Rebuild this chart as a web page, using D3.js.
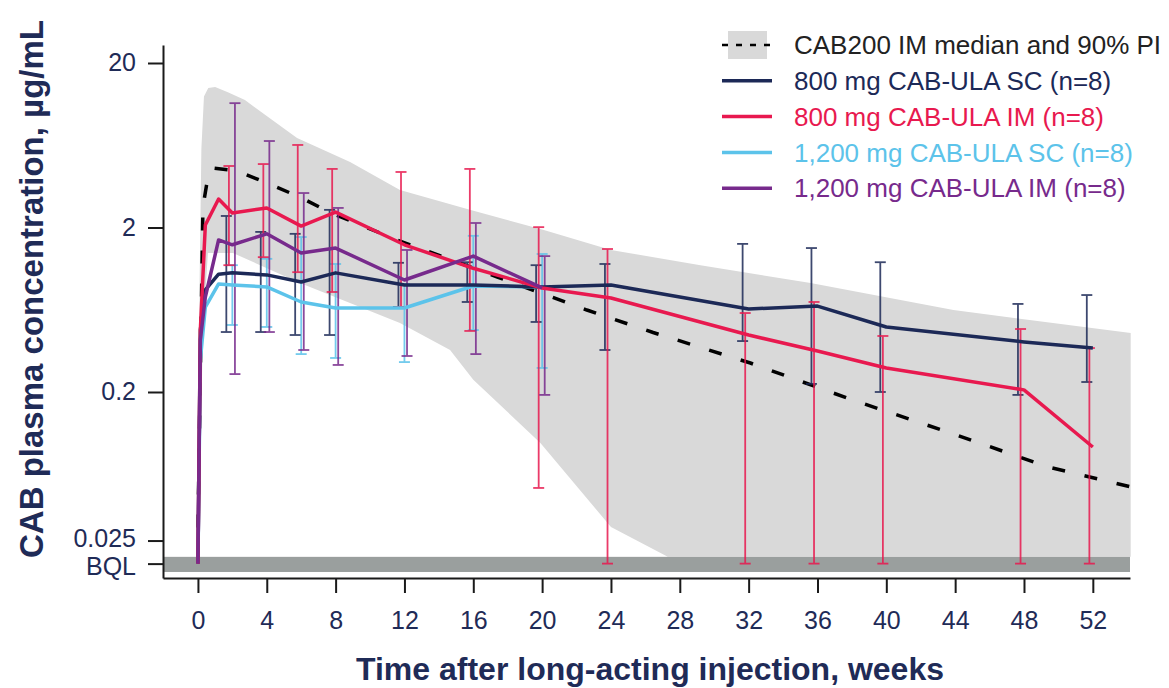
<!DOCTYPE html>
<html>
<head>
<meta charset="utf-8">
<script src="https://cdn.jsdelivr.net/npm/d3@7"></script>
<style>
  body { margin: 0; background: #fff; }
  svg { display: block; font-family: "Liberation Sans", Arial, sans-serif; }
</style>
</head>
<body>
<svg id="chart" width="1169" height="688"></svg>
<script>
// values (concentration in µg/mL, time in weeks)
const BQL = 0.0181;
const bqlBand = [0.0161, 0.0199];

const lineWeeks = [0, 0.14, 0.43, 1.2, 2, 4, 6, 8, 12, 16, 20, 24, 32, 36, 40, 48, 52];
const barWeeks = [2, 4, 6, 8, 12, 16, 20, 24, 32, 36, 40, 48, 52];
const xTicks = [0, 4, 8, 12, 16, 20, 24, 28, 32, 36, 40, 44, 48, 52];
const yTicks = [20, 2, 0.2, 0.025, BQL];

const sc800 = [BQL, 0.476, 0.834, 1.04, 1.06, 1.03, 0.933, 1.06, 0.894, 0.894, 0.870, 0.894, 0.639, 0.666, 0.497, 0.403, 0.370];
const sc800Lo = [0.463, 0.463, 0.444, 0.444, 0.657, 0.705, 0.533, 0.360, 0.408, 0.224, 0.200, 0.192, 0.230];
const sc800Hi = [2.35, 1.88, 1.83, 2.56, 1.22, 1.23, 1.18, 1.20, 1.59, 1.50, 1.23, 0.686, 0.777];

const im800 = [BQL, 0.476, 2.07, 2.98, 2.45, 2.63, 2.04, 2.48, 1.57, 1.13, 0.858, 0.746, 0.444, 0.355, 0.280, 0.206, 0.0926];
const im800Lo = [1.18, 1.32, 1.07, 0.811, 0.657, 0.470, 0.0522, BQL, BQL, BQL, BQL, BQL, BQL];
const im800Hi = [4.73, 4.86, 6.35, 4.54, 4.35, 4.54, 2.01, 1.48, 0.604, 0.705, 0.438, 0.483, 0.370];

const sc1200 = [BQL, 0.313, 0.657, 0.907, 0.894, 0.870, 0.705, 0.648, 0.648, 0.882, 0.870];
const sc1200Lo = [0.511, 0.497, 0.340, 0.322, 0.304, 0.476, 0.280];
const sc1200Hi = [1.18, 1.29, 1.75, 1.20, 0.907, 1.78, 1.38];

const im1200 = [BQL, 0.414, 0.756, 1.68, 1.57, 1.83, 1.40, 1.50, 0.959, 1.34, 0.858];
const im1200Lo = [0.257, 0.463, 0.360, 0.292, 0.331, 0.340, 0.192];
const im1200Hi = [11.4, 6.71, 3.24, 2.63, 1.46, 2.13, 1.34];

// CAB200 IM model median and 90% prediction interval
const medWeeks = [0, 0.29, 0.58, 0.87, 2.27, 4, 5.93, 7.67, 11.57, 17.4, 22.6, 26.45, 32.1, 37.9, 43.7, 49.4, 54.2];
const medConc = [0.03, 2.67, 4.06, 4.6, 4.42, 3.73, 3.06, 2.47, 1.68, 1.0, 0.63, 0.46, 0.30, 0.181, 0.113, 0.070, 0.053];
const piUpWeeks = [0, 0.1, 0.2, 0.35, 0.6, 1.0, 1.74, 2.73, 5.76, 8.84, 11.74, 15.8, 20.1, 24, 29.2, 35.6, 43.9, 54.2];
const piUp = [0.0181, 1.0, 6, 12.5, 14.1, 14.3, 13.3, 11.9, 7.0, 5.0, 3.38, 2.56, 1.93, 1.46, 1.18, 0.92, 0.63, 0.456];
const piLoWeeks = [0, 0.3, 0.58, 2.03, 5.93, 11.74, 14.65, 16.0, 19.9, 24.0, 27.3, 54.2];
const piLo = [0.0181, 0.5, 1.4, 1.40, 0.92, 0.525, 0.360, 0.237, 0.098, 0.0302, 0.0199, 0.0199];

const legendLabels = ['CAB200 IM median and 90% PI', '800 mg CAB-ULA SC (n=8)', '800 mg CAB-ULA IM (n=8)',
  '1,200 mg CAB-ULA SC (n=8)', '1,200 mg CAB-ULA IM (n=8)'];

const navy = '#1c2957', red = '#e8194f', blue = '#5cc3ea', purple = '#772a8c';
const textColor = '#1f2b57';

const svg = d3.select('#chart');

const x = d3.scaleLinear().domain([-2.03, 54.16]).range([163, 1130]);
const y = d3.scaleLog().domain([0.0148, 25.73]).range([578, 45]);

// 90% PI band
const piPoints = piUpWeeks.map((w, i) => [w, piUp[i]])
  .concat(piLoWeeks.map((w, i) => [w, piLo[i]]).reverse());
svg.append('path')
  .attr('d', d3.line().x(d => x(d[0])).y(d => y(d[1]))(piPoints) + 'Z')
  .attr('fill', '#d9d9d9');

// BQL band
svg.append('rect')
  .attr('x', x.range()[0])
  .attr('width', x.range()[1] - x.range()[0])
  .attr('y', y(bqlBand[1]))
  .attr('height', y(bqlBand[0]) - y(bqlBand[1]))
  .attr('fill', '#9a9f9e');

// median line
svg.append('path')
  .datum(medConc)
  .attr('fill', 'none')
  .attr('stroke', '#000')
  .attr('stroke-width', 3.5)
  .attr('stroke-dasharray', '13,20')
  .attr('d', d3.line()
    .x((d, i) => x(medWeeks[i]))
    .y(d => y(d)));

// axes
const yAxis = svg.append('g')
  .attr('transform', 'translate(' + x.range()[0] + ',0)')
  .call(d3.axisLeft(y)
    .tickValues(yTicks)
    .tickFormat(d => d === BQL ? 'BQL' : String(d))
    .tickSize(15)
    .tickSizeOuter(0)
    .tickPadding(12));

const xAxis = svg.append('g')
  .attr('transform', 'translate(0,' + y.range()[0] + ')')
  .call(d3.axisBottom(x)
    .tickValues(xTicks)
    .tickSize(15)
    .tickSizeOuter(0)
    .tickPadding(18));

[yAxis, xAxis].forEach(g => {
  g.selectAll('path, line').attr('stroke', '#1a1a1a').attr('stroke-width', 2);
  g.selectAll('text')
    .attr('fill', textColor)
    .style('font-size', '25px')
    .style('font-family', '"Liberation Sans", Arial, sans-serif');
});
// the two bottom labels sit very close in the original; keep them apart a touch
yAxis.selectAll('.tick text')
  .attr('dy', d => d === BQL ? '0.45em' : d === 0.025 ? '0.22em' : '0.32em');

// error bars, dodged a little per group
function drawBars(lo, hi, color, offset) {
  const g = svg.append('g')
    .attr('stroke', color)
    .attr('stroke-width', 1.8)
    .attr('opacity', 0.85);
  lo.forEach((l, i) => {
    const cx = x(barWeeks[i] + offset);
    g.append('line').attr('x1', cx).attr('x2', cx).attr('y1', y(l)).attr('y2', y(hi[i]));
    g.append('line').attr('x1', cx - 5.5).attr('x2', cx + 5.5).attr('y1', y(l)).attr('y2', y(l));
    g.append('line').attr('x1', cx - 5.5).attr('x2', cx + 5.5).attr('y1', y(hi[i])).attr('y2', y(hi[i]));
  });
}

function drawLine(vals, color) {
  svg.append('path')
    .datum(vals)
    .attr('fill', 'none')
    .attr('stroke', color)
    .attr('stroke-width', 3.5)
    .attr('stroke-linejoin', 'round')
    .attr('d', d3.line()
      .x((d, i) => x(lineWeeks[i]))
      .y(d => y(d)));
}

drawBars(sc1200Lo, sc1200Hi, blue, 0);
drawBars(sc800Lo, sc800Hi, navy, -0.35);
drawBars(im800Lo, im800Hi, red, -0.2);
drawBars(im1200Lo, im1200Hi, purple, 0.15);

drawLine(sc1200, blue);
drawLine(sc800, navy);
drawLine(im800, red);
drawLine(im1200, purple);

// axis titles
svg.append('text')
  .attr('transform', 'translate(43,289) rotate(-90)')
  .attr('text-anchor', 'middle')
  .attr('fill', textColor)
  .style('font-size', '33px')
  .style('font-weight', 'bold')
  .text('CAB plasma concentration, µg/mL');

svg.append('text')
  .attr('x', 650)
  .attr('y', 680)
  .attr('text-anchor', 'middle')
  .attr('fill', textColor)
  .style('font-size', '32px')
  .style('font-weight', 'bold')
  .text('Time after long-acting injection, weeks');

// legend
const legendColors = ['#222', navy, red, blue, purple];
const legend = svg.append('g').attr('transform', 'translate(722,45)');
legendLabels.forEach((label, i) => {
  const row = legend.append('g').attr('transform', 'translate(0,' + (i * 35.8) + ')');
  if (i === 0) {
    row.append('rect').attr('x', 6).attr('y', -14).attr('width', 39).attr('height', 28).attr('fill', '#d9d9d9');
    row.append('line').attr('x1', 0).attr('x2', 50).attr('stroke', '#000')
      .attr('stroke-width', 2.5).attr('stroke-dasharray', '6,8');
  } else {
    row.append('line').attr('x1', 0).attr('x2', 50).attr('stroke', legendColors[i]).attr('stroke-width', 3.5);
  }
  row.append('text')
    .attr('x', 72)
    .attr('dy', '0.35em')
    .attr('fill', legendColors[i])
    .style('font-size', '26px')
    .text(label);
});
</script>
</body>
</html>
